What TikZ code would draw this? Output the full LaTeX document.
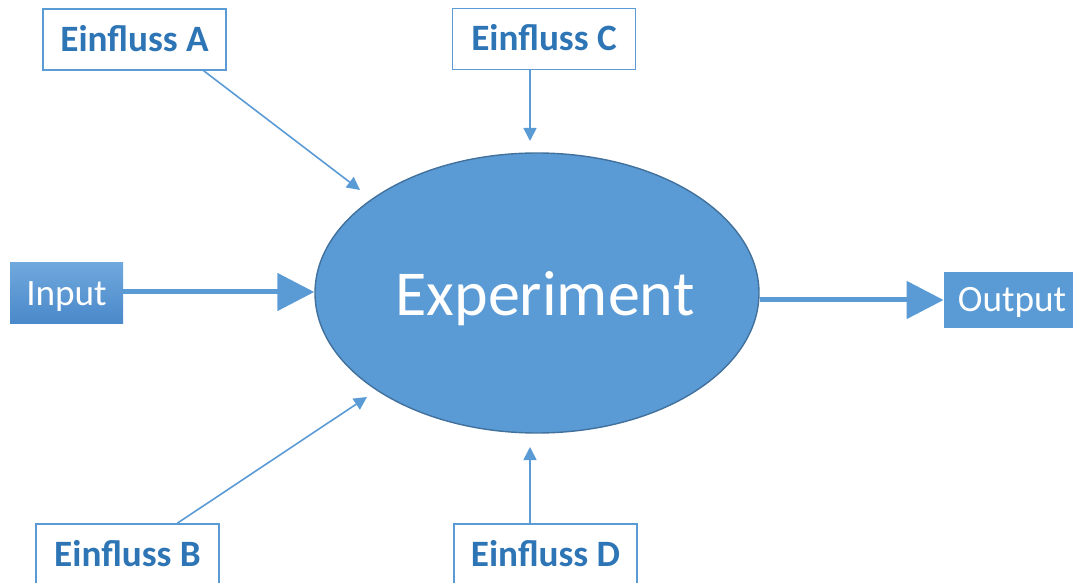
\documentclass[tikz,border=0pt]{standalone}
\usepackage{fontspec}
\setmainfont{Carlito}
\usetikzlibrary{arrows.meta,shapes.geometric,calc}
\definecolor{accent}{HTML}{5B9BD5}
\definecolor{accentdark}{HTML}{2E75B6}
\definecolor{rimblue}{HTML}{41719C}
\definecolor{gradtop}{HTML}{6FA8DC}
\definecolor{gradbottom}{HTML}{4A88CA}
\tikzset{
  influence/.style={draw=accent, line width=0.8pt, fill=white, inner sep=0pt,
    minimum width=91.5pt, minimum height=30.5pt, text=accentdark,
    text height=12pt, text depth=0pt,
    font=\fontsize{18.6}{20}\selectfont\bfseries},
  thinarrow/.style={draw=accent, line width=0.8pt, -{Triangle[length=6.5pt,width=6.5pt]}},
  bigarrow/.style={draw=accent, line width=2.5pt, -{Triangle[length=18.5pt,width=18.5pt]}},
  ioblock/.style={inner sep=0pt, text=white, text height=12pt, text depth=0pt,
    font=\fontsize{18.6}{20}\selectfont},
}
\begin{document}
\begin{tikzpicture}[x=0.5pt, y=-0.5pt]
  \useasboundingbox (0,0) rectangle (1073,583);
  \clip (0,0) rectangle (1073,583);

  % central process
  \node[ellipse, draw=rimblue, line width=0.7pt, fill=accent,
        minimum width=222pt, minimum height=140pt, inner sep=0pt] (exp) at (537,293) {};
  \node[text=white, inner sep=0pt, anchor=base, font=\fontsize{32}{36}\selectfont]
        (expText) at (545,315) {Experiment};

  % influences
  \node[influence] (A) at (134.5,39.5) {Einfluss A};
  \node[influence] (C) at (544,39)    {Einfluss C};
  \node[influence] (B) at (127.5,554.5) {Einfluss B};
  \node[influence] (D) at (545.5,554.5) {Einfluss D};

  % input and output
  \node[ioblock, minimum width=56.5pt, minimum height=30.5pt,
        top color=gradtop, bottom color=gradbottom] (In) at (66.5,293.5) {Input};
  \node[ioblock, fill=accent, minimum width=68pt, minimum height=28pt] (Out) at (1012,300) {Output};

  % arrow ends short of the ellipse
  \coordinate (tipA) at (360,190);
  \coordinate (tipB) at (367,397);
  \coordinate (tipC) at (530,141);
  \coordinate (tipD) at (530,447);

  \draw[thinarrow] ($(A.south)!0.75!(A.south east)$) -- (tipA);
  \draw[thinarrow] ($(B.north)!0.54!(B.north east)$) -- (tipB);
  \draw[thinarrow] (C.south -| tipC) -- (tipC);
  \draw[thinarrow] (D.north -| tipD) -- (tipD);

  \draw[bigarrow] (In.east |- 0,292) -- (exp.west |- 0,292);
  \draw[bigarrow] (exp.east |- Out.west) -- (Out.west);
\end{tikzpicture}
\end{document}
